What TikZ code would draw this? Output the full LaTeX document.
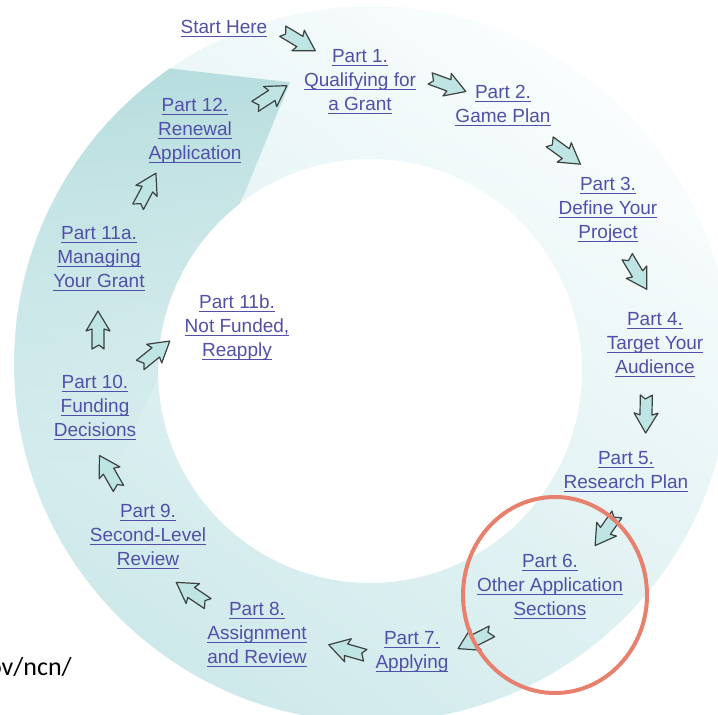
\documentclass[tikz,border=0pt]{standalone}
\usepackage{fontspec}
\setmainfont{Liberation Sans}
\newfontfamily\addrfont{Carlito}
\usetikzlibrary{fadings}

\definecolor{linkblue}{RGB}{80,80,168}
\definecolor{arrowfill}{RGB}{190,228,228}
\definecolor{arrowdraw}{RGB}{60,66,64}
\definecolor{ringlight}{RGB}{250,253,253}
\definecolor{ringdark}{RGB}{206,233,235}
\definecolor{segdark}{RGB}{182,221,222}
\definecolor{circred}{RGB}{232,128,110}

% underlined link text
\newcommand\lnk[1]{\setbox0\hbox{#1}\rlap{\rule[-3.5pt]{\wd0}{1pt}}\box0}
% hollow block arrow: position, direction
\newcommand\blockarrow[2]{%
  \draw[hollow, shift={#1}, rotate=#2] (-19,-6) -- (1,-6) -- (-1,-12) -- (19,0) -- (-1,12) -- (1,6) -- (-19,6) -- (-15,1) -- cycle;}

\begin{document}
\begin{tikzpicture}[x=1pt, y=-1pt,
    part/.style={text=linkblue, align=center, inner sep=0pt, font=\fontsize{19}{24}\selectfont},
    hollow/.style={draw=arrowdraw, fill=arrowfill, line width=1.2pt, line join=round}]
    \useasboundingbox (0,0) rectangle (718,715);  % page size

    % ring
    \shade[even odd rule, top color=ringlight, bottom color=ringdark, shading angle=-35]
        (372,364) circle (358) (370,371) circle (212);
    \begin{scope}[even odd rule]
        \clip (372,364) circle (358) (370,371) circle (212);
        \fill[segdark, path fading=south] (168,68) -- (290,82) -- (246,190) -- (120,460) -- (0,460) -- (0,60) -- cycle;  % renewal segment
    \end{scope}

    % labels
    \node[part] (start) at (224,29) {\lnk{Start Here}};
    \node[part] (p1) at (360,82) {\lnk{Part 1.}\\\lnk{Qualifying for}\\\lnk{a Grant}};
    \node[part] (p2) at (503,106) {\lnk{Part 2.}\\\lnk{Game Plan}};
    \node[part] (p3) at (608,210) {\lnk{Part 3.}\\\lnk{Define Your}\\\lnk{Project}};
    \node[part] (p4) at (655,345) {\lnk{Part 4.}\\\lnk{Target Your}\\\lnk{Audience}};
    \node[part] (p5) at (626,472) {\lnk{Part 5.}\\\lnk{Research Plan}};
    \node[part] (p6) at (550,587) {\lnk{Part 6.}\\\lnk{Other Application}\\\lnk{Sections}};
    \node[part] (p7) at (412,652) {\lnk{Part 7.}\\\lnk{Applying}};
    \node[part] (p8) at (257,635) {\lnk{Part 8.}\\\lnk{Assignment}\\\lnk{and Review}};
    \node[part] (p9) at (148,537) {\lnk{Part 9.}\\\lnk{Second-Level}\\\lnk{Review}};
    \node[part] (p10) at (95,408) {\lnk{Part 10.}\\\lnk{Funding}\\\lnk{Decisions}};
    \node[part] (p11b) at (237,328) {\lnk{Part 11b.}\\\lnk{Not Funded,}\\\lnk{Reapply}};
    \node[part] (p11a) at (99,259) {\lnk{Part 11a.}\\\lnk{Managing}\\\lnk{Your Grant}};
    \node[part] (p12) at (195,131) {\lnk{Part 12.}\\\lnk{Renewal}\\\lnk{Application}};

    % arrows between the parts
    \blockarrow{(299,41)}{-31}
    \blockarrow{(448,85)}{-20}
    \blockarrow{(565,153)}{-36}
    \blockarrow{(637,273)}{-59}
    \blockarrow{(646,414)}{-91}
    \blockarrow{(606,530)}{-125}
    \blockarrow{(475,640)}{-153}
    \blockarrow{(347,650)}{164}
    \blockarrow{(192,593)}{146}
    \blockarrow{(109,472)}{120}
    \blockarrow{(98,330)}{90}
    \blockarrow{(155,353)}{39}
    \blockarrow{(147,190)}{62}
    \blockarrow{(271,96)}{33}

    % highlight
    \draw[circred, line width=4pt] (555,595) ellipse (92 and 98);
    \node[anchor=east, inner sep=0pt, font=\addrfont\fontsize{26}{30}\selectfont] (addr) at (72,667) {ov/ncn/};
\end{tikzpicture}
\end{document}
